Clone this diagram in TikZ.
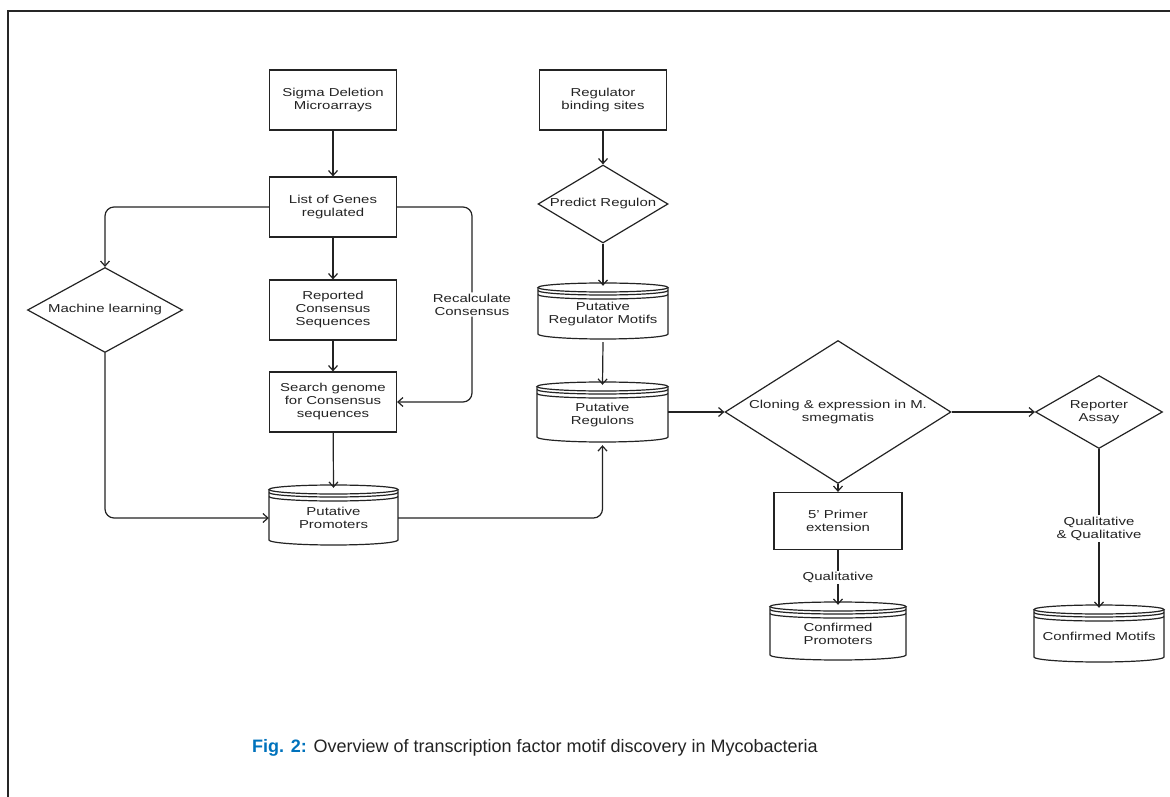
\documentclass[tikz,border=0pt]{standalone}
\usepackage{fontspec}
\setmainfont{Liberation Sans}
\newfontfamily\wideface[FakeStretch=1.3]{Liberation Sans}
\usetikzlibrary{shapes.geometric, arrows.meta}
\definecolor{figblue}{RGB}{0,114,188}
\definecolor{ink}{RGB}{35,35,35}
\newcommand{\boxfont}{\wideface\fontsize{11.5}{13}\selectfont}
\tikzset{
  stepbox/.style={draw=ink, line width=1.2pt, minimum width=127pt,
    minimum height=60pt, align=center, inner sep=2pt, text=ink,
    font=\boxfont},
  choice/.style={draw=ink, line width=1.2pt, diamond, inner sep=0pt,
    text=ink, font=\boxfont},
  dbtext/.style={inner sep=0pt, align=center, text=ink, font=\boxfont},
  dbline/.style={draw=ink, line width=1.2pt},
  flow/.style={->, >={Straight Barb[length=5pt, width=9pt]}, draw=ink,
    line width=1.2pt},
  tag/.style={fill=white, inner sep=1.5pt, align=center, text=ink,
    font=\boxfont},
}
% stacked-disc store: name, left, right, top, bottom, text
\newcommand{\dbstack}[6]{%
  \pgfmathsetmacro{\dbcx}{(#2+#3)/2}%
  \pgfmathsetmacro{\dbrx}{(#3-#2)/2}%
  \pgfmathsetmacro{\dbcy}{(#4+#5)/2}%
  \pgfmathsetmacro{\dbw}{#3-#2}%
  \pgfmathsetmacro{\dbh}{#5-#4}%
  \node[dbtext, minimum width=\dbw pt, minimum height=\dbh pt] (#1)
    at (\dbcx,\dbcy+3) {#6};
  \draw[dbline] (\dbcx,#4+4.5) ellipse [x radius=\dbrx, y radius=4.5];
  \draw[dbline] (#2,#4+4.5) -- (#2,#5-5)
    arc [start angle=180, end angle=0, x radius=\dbrx, y radius=5]
    -- (#3,#4+4.5);
  \draw[dbline] (#2,#4+7.5)
    arc [start angle=180, end angle=0, x radius=\dbrx, y radius=4.5];
  \draw[dbline] (#2,#4+11.5)
    arc [start angle=180, end angle=0, x radius=\dbrx, y radius=4.5];
}
\begin{document}
\begin{tikzpicture}[x=1pt, y=-1pt]
  \useasboundingbox (0,0) rectangle (1170,797);
  % frame of the figure
  \draw[line width=2.6pt, black!85] (8,797) -- (8,11) -- (1170,11);
  % ---------- left column: from the microarrays ----------
  \node[stepbox] (sigma) at (333,100) {Sigma Deletion\\Microarrays};
  \node[stepbox] (genes) at (333,207) {List of Genes\\regulated};
  \node[stepbox] (consensus) at (333,310)
    {Reported\\Consensus\\Sequences};
  \node[stepbox] (search) at (333,402)
    {Search genome\\for Consensus\\sequences};
  \dbstack{pprom}{269}{398}{485}{545}{Putative\\Promoters}
  \node[choice, minimum width=155pt, minimum height=85pt,
    label={[text=ink, font=\boxfont]center:Machine learning}]
    (mlearn) at (105,310) {};
  % ---------- middle column: from the regulator sites ----------
  \node[stepbox] (rbind) at (603,100) {Regulator\\binding sites};
  \node[choice, minimum width=130pt, minimum height=78pt,
    label={[text=ink, font=\boxfont]center:Predict Regulon}]
    (predict) at (603,204) {};
  \dbstack{pmotif}{538}{668}{283}{339}{Putative\\Regulator Motifs}
  \dbstack{preg}{537}{668}{382}{442}{Putative\\Regulons}
  % ---------- right side: the wet lab checks ----------
  \node[choice, minimum width=226pt, minimum height=143pt,
    label={[text=ink, font=\boxfont, align=center]center:Cloning \&
    expression in M.\\smegmatis}]
    (clone) at (838,412) {};
  \node[choice, minimum width=127pt, minimum height=73pt,
    label={[text=ink, font=\boxfont, align=center]center:Reporter\\Assay}]
    (report) at (1099,412) {};
  \node[stepbox, minimum width=128pt, minimum height=57pt] (primer)
    at (838,521) {5’ Primer\\extension};
  \dbstack{cprom}{770}{906}{602}{660}{Confirmed\\Promoters}
  \dbstack{cmotif}{1034}{1164}{605}{662}{Confirmed Motifs}
  % ---------- connectors ----------
  \draw[flow] (sigma) -- (genes);
  \draw[flow] (genes) -- (consensus);
  \draw[flow] (consensus) -- (search);
  \draw[flow] (search) -- (pprom.north);
  \draw[flow, rounded corners=9pt] (genes.west) -| (mlearn.north);
  \draw[flow, rounded corners=9pt] (mlearn.south) |- (pprom.west);
  \draw[flow, rounded corners=9pt] (genes.east) -- (472,207)
    -- node[tag] (recalc) {Recalculate\\Consensus} (472,402)
    -- (search.east);
  \draw[flow] (rbind) -- (predict);
  \draw[flow] (predict) -- (pmotif.north);
  \draw[flow] (pmotif.south) -- (preg.north);
  \draw[flow, rounded corners=9pt] (pprom.east) -| (preg.south);
  \draw[flow] (preg.east |- clone.west) -- (clone.west);
  \draw[flow] (clone.east) -- (report.west);
  \draw[flow] (clone.south) -- (primer.north);
  \draw[flow] (primer.south) -- node[tag] (qual) {Qualitative}
    (cprom.north);
  \draw[flow] (report.south) -- node[tag] (qualboth)
    {Qualitative\\\& Qualitative} (cmotif.north);
  % ---------- caption ----------
  \node[anchor=base west, inner sep=0pt, text=ink,
    font=\fontsize{18}{21}\selectfont] (caption) at (252,752)
    {\textcolor{figblue}{\bfseries Fig. 2:} Overview of transcription
    factor motif discovery in Mycobacteria};
\end{tikzpicture}
\end{document}
